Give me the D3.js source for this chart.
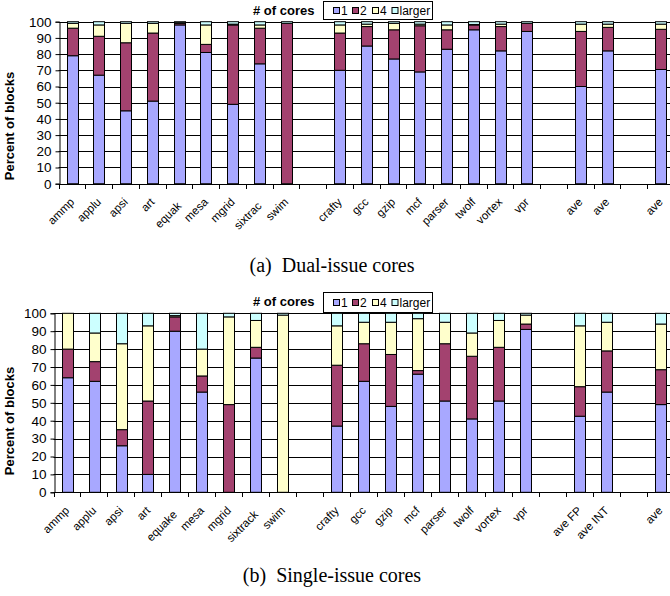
<!DOCTYPE html>
<html>
<head>
<meta charset="utf-8">
<script src="https://cdn.jsdelivr.net/npm/d3@7/dist/d3.min.js"></script>
<style>
  html, body { margin: 0; padding: 0; background: #fff; }
  svg { display: block; }
</style>
</head>
<body>
<svg id="chart" width="670" height="596"></svg>
<script>
// Series names and colours shared by both panels
const seriesNames = ["1", "2", "4", "larger"];
const seriesColors = ["#a8a8ff", "#a3426f", "#ffffcc", "#ccffff"];
const yTicks = [0, 10, 20, 30, 40, 50, 60, 70, 80, 90, 100];

// (a) Dual-issue cores — null marks an empty spacer slot
const dualLabels = ["ammp", "applu", "apsi", "art", "equak", "mesa", "mgrid", "sixtrac", "swim", null,
  "crafty", "gcc", "gzip", "mcf", "parser", "twolf", "vortex", "vpr", null, "ave", "ave", null, "ave"];
const dualOne    = [79, 67, 45, 51, 98, 81, 49, 74, 0, null, 70, 85, 77, 69, 83, 95, 82, 94, null, 60, 82, null, 70.5];
const dualTwo    = [17, 24, 42, 42, 1, 5, 49, 22, 99, null, 23, 12, 18, 28.5, 12, 3, 15, 5, null, 34, 14.5, null, 24.8];
const dualFour   = [3, 7, 12, 6, 0.3, 12, 0.5, 2, 0, null, 5, 1.5, 4, 1, 3, 0.3, 1.5, 0, null, 4.5, 2, null, 3.2];
const dualLarger = [1, 2, 1, 1, 0.7, 2, 1.5, 2, 1, null, 2, 1.5, 1, 1.5, 2, 1.7, 1.5, 1, null, 1.5, 1.5, null, 1.5];

// (b) Single-issue cores
const singleLabels = ["ammp", "applu", "apsi", "art", "equake", "mesa", "mgrid", "sixtrack", "swim", null,
  "crafty", "gcc", "gzip", "mcf", "parser", "twolf", "vortex", "vpr", null, "ave FP", "ave INT", null, "ave"];
const singleOne    = [64, 62, 26, 10, 90, 56, 0, 75, 0, null, 37, 62, 48, 66, 51, 41, 51, 91, null, 42.5, 56, null, 49];
const singleTwo    = [16, 11, 9, 41, 8, 9, 49, 6, 0, null, 34, 21, 29, 2, 32, 35, 30, 3, null, 16.5, 23, null, 19.5];
const singleFour   = [20, 16, 48, 42, 0.7, 15, 49, 15, 99, null, 22, 12, 18, 29, 12, 13, 15, 5, null, 34, 16, null, 25.5];
const singleLarger = [0, 11, 17, 7, 1.3, 20, 2, 4, 1, null, 7, 5, 5, 3, 5, 11, 4, 1, null, 7, 5, null, 6];

// Labels drawn a little lower than their neighbours
const loweredSlots = new Set([4, 7]);

const svg = d3.select("#chart");
const sans = "'Liberation Sans', Arial, sans-serif";

function drawPanel(p) {
  const g = svg.append("g");
  const n = p.labels.length;
  const x = d3.scaleBand().domain(d3.range(n)).range([p.left, p.right])
    .paddingInner(0.6).paddingOuter(0.3);
  const y = d3.scaleLinear().domain([0, 100]).range([p.bottom, p.top]);

  // horizontal gridlines
  g.append("g").selectAll("line").data(yTicks.filter(t => t > 0)).join("line")
    .attr("x1", p.left).attr("x2", p.right)
    .attr("y1", d => Math.round(y(d)) + 0.5).attr("y2", d => Math.round(y(d)) + 0.5)
    .attr("stroke", "#000").attr("stroke-width", 1);

  // stacked bars
  const rows = d3.range(n).filter(i => p.labels[i] !== null).map(i => ({
    i, "1": p.series[0][i], "2": p.series[1][i], "4": p.series[2][i], "larger": p.series[3][i]
  }));
  const stacked = d3.stack().keys(seriesNames)(rows);
  g.append("g").selectAll("g").data(stacked).join("g")
    .attr("fill", (d, k) => seriesColors[k])
    .selectAll("rect").data(d => d.filter(s => s[1] - s[0] > 0)).join("rect")
    .attr("x", s => Math.round(x(s.data.i)) + 0.5)
    .attr("width", Math.round(x.bandwidth()))
    .attr("y", s => y(s[1]))
    .attr("height", s => y(s[0]) - y(s[1]))
    .attr("stroke", "#000").attr("stroke-width", 1);

  // y axis
  const yAxis = d3.axisLeft(y).tickValues(yTicks).tickSize(4).tickPadding(4);
  const ya = g.append("g").attr("transform", `translate(${Math.round(p.left) + 0.5},0)`).call(yAxis);
  ya.select(".domain").attr("stroke", "#000");
  ya.selectAll(".tick line").attr("stroke", "#000");
  ya.selectAll(".tick text").attr("font-family", sans).attr("font-size", 13.5).attr("fill", "#000");

  // x axis line with slot boundary ticks
  g.append("line").attr("x1", p.left).attr("x2", p.right)
    .attr("y1", Math.round(p.bottom) + 0.5).attr("y2", Math.round(p.bottom) + 0.5)
    .attr("stroke", "#000");
  const step = x.step();
  g.append("g").selectAll("line").data(d3.range(n + 1)).join("line")
    .attr("x1", i => Math.round(p.left + i * step) + 0.5)
    .attr("x2", i => Math.round(p.left + i * step) + 0.5)
    .attr("y1", Math.round(p.bottom)).attr("y2", Math.round(p.bottom) + 5)
    .attr("stroke", "#000");

  // rotated category labels
  g.append("g").selectAll("text").data(rows).join("text")
    .attr("transform", r => {
      const cx = x(r.i) + x.bandwidth() / 2 + 3;
      const cy = p.bottom + 19 + (loweredSlots.has(r.i) ? 4 : 0);
      return `translate(${cx},${cy}) rotate(-45)`;
    })
    .attr("text-anchor", "end")
    .attr("font-family", sans).attr("font-size", 11.5)
    .text(r => p.labels[r.i]);

  // y axis title
  g.append("text")
    .attr("transform", `translate(${p.titleX},${p.titleY}) rotate(-90)`)
    .attr("text-anchor", "middle")
    .attr("font-family", sans).attr("font-size", 13).attr("font-weight", "bold")
    .text("Percent of blocks");

  // legend
  const lg = g.append("g");
  lg.append("text").attr("x", 253).attr("y", p.legendY + 14)
    .attr("font-family", sans).attr("font-size", 13).attr("font-weight", "bold")
    .text("# of cores");
  lg.append("rect").attr("x", 323.5).attr("y", p.legendY + 0.5).attr("width", 109).attr("height", p.legendH)
    .attr("fill", "#fff").attr("stroke", "#000");
  const itemX = [333, 352, 372, 391.5];
  seriesNames.forEach((name, k) => {
    lg.append("rect").attr("x", itemX[k] + 0.5).attr("y", p.legendY + p.legendH / 2 - 2.5)
      .attr("width", 6).attr("height", 6)
      .attr("fill", seriesColors[k]).attr("stroke", "#000");
    lg.append("text").attr("x", itemX[k] + 8).attr("y", p.legendY + p.legendH / 2 + 5)
      .attr("font-family", sans).attr("font-size", 12)
      .text(name);
  });

  // caption
  g.append("text").attr("x", 332).attr("y", p.captionY)
    .attr("text-anchor", "middle")
    .attr("font-family", "'Liberation Serif', 'Times New Roman', serif").attr("font-size", 20)
    .attr("xml:space", "preserve")
    .text(p.caption);
}

drawPanel({
  labels: dualLabels, series: [dualOne, dualTwo, dualFour, dualLarger],
  left: 58.6, right: 673.9, top: 21.7, bottom: 183.7,
  titleX: 14, titleY: 126, legendY: 1, legendH: 18, captionY: 272,
  caption: "(a)  Dual-issue cores"
});
drawPanel({
  labels: singleLabels, series: [singleOne, singleTwo, singleFour, singleLarger],
  left: 53.5, right: 673.8, top: 313.3, bottom: 492.3,
  titleX: 14, titleY: 421, legendY: 292, legendH: 20, captionY: 582,
  caption: "(b)  Single-issue cores"
});
</script>
</body>
</html>
